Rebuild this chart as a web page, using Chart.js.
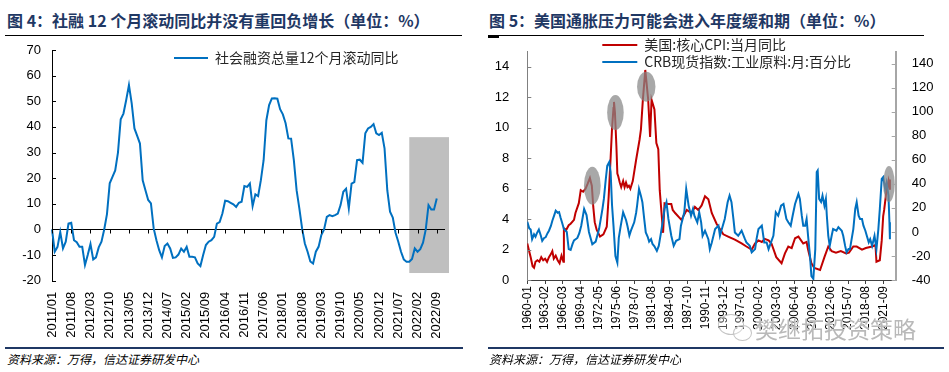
<!DOCTYPE html>
<html><head><meta charset="utf-8">
<script src="https://cdn.jsdelivr.net/npm/chart.js@4.4.0/dist/chart.umd.min.js"></script>
<style>
html,body{margin:0;padding:0;background:#fff;width:949px;height:372px;overflow:hidden;position:relative;font-family:"Noto Sans CJK SC",sans-serif;}
.title{position:absolute;top:10px;font-weight:bold;font-size:16px;line-height:20px;color:#1F3864;white-space:nowrap;}
.rule{position:absolute;top:35px;height:1px;background:#000;}
.foot{position:absolute;top:347px;height:2px;background:#1F3864;}
.src{position:absolute;top:352px;font-size:12px;line-height:14px;font-style:italic;color:#000;white-space:nowrap;}
canvas{position:absolute;top:30px;}
#wm{position:absolute;left:755px;top:314px;font-size:23px;line-height:28px;color:#b9b9b9;white-space:nowrap;text-shadow:0 0 1px #fff,0 0 1px #fff;}
.bub{position:absolute;border:1.5px solid #c4c4c4;border-radius:50%;background:rgba(255,255,255,0.3);}
</style></head>
<body>
<div class="title" style="left:7px;">图 4：社融 12 个月滚动同比并没有重回负增长（单位：%）</div>
<div class="rule" style="left:5px;width:457px;"></div>
<div class="title" style="left:489px;">图 5：美国通胀压力可能会进入年度缓和期（单位：%）</div>
<div class="rule" style="left:488px;width:436px;"></div>
<div class="rule" style="left:488px;width:11px;height:2px;top:36px;"></div>

<canvas id="cL" width="470" height="315" style="left:0px;"></canvas>
<canvas id="cR" width="475" height="315" style="left:474px;"></canvas>

<div class="bub" style="left:718px;top:314px;width:24px;height:19px;"></div>
<div class="bub" style="left:733px;top:325px;width:17px;height:14px;"></div>
<div id="wm">樊继拓投资策略</div>

<div class="foot" style="left:5px;width:458px;"></div>
<div class="foot" style="left:488px;width:456px;"></div>
<div class="src" style="left:7px;">资料来源：万得，信达证券研发中心</div>
<div class="src" style="left:489px;">资料来源：万得，信达证券研发中心</div>

<script>
// ---------- Figure 4 data ----------
const sfLegend = '社会融资总量12个月滚动同比';
const sfStartYear = 2011, sfEndYear = 2022;
const sfValues = [
 0, -8.7, -6.8, -1, -7.4, -4.8, 2.3, 2.6, -4.2, -5,
 -6.8, -6.8, -13.9, -10, -5.7, -11.7, -10.9, -7, -4.8, 0,
 6, 18, 20.5, 23, 30, 43, 45.2, 50.5, 56.3, 49.2,
 39.4, 36.5, 33.5, 19.2, 15.3, 11.5, 10.2, 0.4, -4.2, -8.1,
 -10.9, -6.5, -5.5, -7.4, -11.1, -10.9, -9.8, -7.5, -8.7, -6.8,
 -10.7, -10.7, -10.9, -13.3, -14.3, -10, -6.1, -4.8, -4.2, -2.9,
 2.3, 2.9, 6.2, 11.2, 11, 10.4, 9.8, 8.8, 10.4, 10.8,
 16.9, 16.6, 17.9, 9.1, 13.7, 13, 19.2, 27, 42.6, 48.5,
 51.1, 51.2, 51, 46.9, 44.9, 41.4, 35.5, 35.4, 27, 15.3,
 8.2, 0.4, -5.5, -8.7, -12.5, -13.3, -8.7, -6.8, -2.2, 0,
 4.9, 5.6, 5.2, 5.6, 6.2, 9.5, 14.7, 15.9, 8.2, 17.9,
 18.5, 27, 27.2, 26, 37.5, 39.4, 40, 41.1, 37.5, 36.8,
 37.7, 31.6, 15.3, 6.9, 4.6, -1.3, -4.8, -8.7, -11.7, -12.6,
 -12.6, -11.5, -7.4, -8.7, -7.7, -5.2, 0, 9.5, 7.8, 7.8,
 12.1
];
const sfLabels = [];
for (let y = sfStartYear; y <= sfEndYear; y++) for (let m = 1; m <= 12; m++) sfLabels.push(y + '/' + String(m).padStart(2, '0'));
const sfTickEvery = 7;
const sfShadeFrom = '2021/11', sfShadeTo = '2022/12';
const sfShadeLow = -17, sfShadeHigh = 36;

// ---------- Figure 5 data ----------
const cpiLabel = '美国:核心CPI:当月同比';
const crbLabel = 'CRB现货指数:工业原料:月:百分比';
const cpiDates = ['1960-01','1960-04','1960-08','1960-12','1961-03','1961-06','1961-10','1962-02','1962-06','1962-10','1963-02','1963-06','1963-10','1964-02','1964-05','1964-08','1964-12','1965-04','1965-08','1965-12','1966-04',
 '1966-05','1966-10','1967-03','1967-07','1968-02','1968-05','1968-12','1969-04','1969-09','1970-02','1970-06','1970-11','1971-03','1971-06','1971-09','1972-01','1972-08','1973-03','1973-10','1974-02','1974-06','1974-09','1974-12','1975-01','1975-03','1975-06','1975-08','1975-10',
 '1976-01','1976-04','1976-08','1976-11','1977-02','1977-05','1977-08','1977-11','1978-04','1978-11','1979-06','1979-09','1980-01','1980-06','1980-12','1981-04','1981-07','1982-01','1982-05','1982-09','1982-12','1983-07','1983-10',
 '1984-05','1984-12','1985-03','1985-08','1986-09','1987-08','1988-06','1989-01','1989-08','1990-03','1990-10','1991-05','1991-12','1992-10','1993-12','1994-10','1995-12','1997-02','1997-12','1998-11','1999-06','2000-01','2000-08','2001-02','2001-10','2002-04','2003-02','2004-01','2004-08','2005-03','2005-10',
 '2006-05','2006-12','2007-10','2008-05','2008-08','2009-03','2009-09','2010-09','2011-06','2012-02','2012-09','2013-06','2014-04','2015-03','2015-09','2016-06','2017-01','2017-12','2018-08','2019-09','2020-04','2020-06','2021-01','2021-05','2021-08','2021-10','2022-03','2022-07','2022-09','2022-10'];
const cpiValues = [2.4,2.0,1.5,0.9,0.8,1.2,1.3,1.2,1.5,1.3,1.4,1.2,1.5,1.7,1.9,1.4,1.6,1.3,1.1,1.6,1.2,
 3.4,3.3,3.6,3.7,3.95,4.4,5.05,5.9,5.8,6.0,6.3,6.7,6.2,4.8,3.8,3.3,2.85,3.0,3.5,5.5,8.0,10.0,11.3,11.7,11.0,8.8,7.0,6.8,
 6.4,6.1,6.5,6.1,6.4,6.1,6.2,6.0,6.5,7.9,9.2,9.9,11.85,13.8,11.85,9.4,11.85,11.2,9.0,8.6,5.9,3.1,5.05,
 5.0,5.0,4.6,4.4,3.95,4.6,4.4,4.8,4.6,4.9,5.5,5.3,4.4,3.7,3.0,2.85,2.65,2.4,2.2,2.0,2.4,2.6,2.5,2.7,2.6,2.4,1.5,1.1,1.75,2.2,2.1,
 2.74,2.85,2.4,2.5,2.0,1.1,0.8,0.66,1.5,2.2,1.9,1.8,1.9,1.75,1.8,2.2,2.2,2.0,2.1,2.2,2.3,1.2,1.3,2.6,4.2,4.6,5.9,6.5,6.0,6.6];
const crbDates = ['1960-01','1960-05','1960-08','1960-11','1961-03','1961-06','1961-09','1962-01','1962-05','1962-08','1962-12','1963-03','1963-07','1963-10','1964-02','1964-05','1964-09','1964-12','1965-04','1965-07','1965-10','1966-01','1966-05','1966-11','1967-03','1967-07','1967-11','1968-02','1968-09','1969-01','1969-05','1969-11','1970-04','1970-09','1971-04','1971-11','1972-06',
 '1973-01','1973-04','1973-08','1973-11','1974-03','1974-06','1974-09','1974-12','1975-04','1975-08','1975-11','1976-03','1976-08','1977-02','1977-05','1977-09','1978-01','1978-07','1978-11','1979-01','1979-05','1979-09','1979-12','1980-04','1980-07','1980-11','1981-02','1981-06','1981-09','1982-01','1982-06','1982-10',
 '1983-02','1983-06','1983-10','1984-02','1984-06','1984-12','1985-05','1985-10','1986-05','1986-08','1987-03','1987-07','1987-12','1988-05','1988-09','1988-12','1989-06','1989-10','1990-02','1990-05','1990-10','1991-05','1991-08','1991-12','1992-07','1993-02','1993-05','1993-09','1994-03','1994-09','1995-01','1995-05','1995-09','1995-12',
 '1996-07','1997-02','1997-09','1997-12','1998-07','1998-11','1999-06','1999-09','2000-01','2000-08','2001-01','2001-06','2001-10','2002-03','2002-08','2003-01','2003-06','2003-12','2004-05','2004-11','2005-03','2005-08','2005-12','2006-05','2006-12','2007-03','2007-07','2007-10','2008-02','2008-05','2008-08','2008-12','2009-03','2009-07','2009-11','2010-02','2010-04','2010-07','2010-11',
 '2011-02','2011-06','2011-09','2011-11','2012-02','2012-05','2012-09','2012-12','2013-07','2013-11','2014-06','2014-09','2015-01','2015-04','2015-08','2015-11','2016-06','2016-10','2017-01','2017-05','2017-08','2017-12','2018-03','2018-07','2018-10','2019-02','2019-05','2019-09','2020-02','2020-06','2020-10','2021-01','2021-05','2021-08','2021-12','2022-03','2022-07','2022-09','2022-10'];
const crbValues = [8.5,3,2,-6,-2,-4,-1,2,-3,-7.4,-5,-4.5,-1,1,5,9.3,14,17.7,16,16.5,12,8,2.4,0,-14.3,-15,-10,-7,-5,-1,5.2,19.1,14,0,-10.2,-8,2.4,
 19,27.5,44,55,58,50,22,5,-20,-25.5,-5,5,16.4,10,5,-3,2,8,16,21.9,35.8,30,24.7,10,-0.4,-4,-8,-6,-10,-12,-15.8,-11.6,
 -2,8,19.1,24.7,10.8,-3.2,-11.6,-7.4,-6,5.2,16.4,35.8,21.9,13.5,19.1,13.5,8,16.4,8,-3.2,1,-6,-14.3,-9,2.4,5.2,-3.2,2.4,10.8,24.7,30.2,24.7,10.8,-0.4,
 -3.2,1,-6,-8.7,-11.6,-17,-14.3,-6,2.4,5.2,-8.7,-8.7,-14.3,-8.7,-3.2,16.4,13.5,21.9,23.3,10.8,8,5.2,13.5,23.3,31.7,27.5,13.5,5.2,5.2,10.8,-3.2,-19.9,-36.7,-39,-14.3,49.8,51.1,27.5,25,
 30.2,21.9,27.5,13.5,-3.2,-11.6,-3.2,2.4,1,4,1,-3.2,-11.6,-17,-14.3,-14.3,2.4,19.1,24.7,13.5,10.8,10.8,5.2,1,-3.2,-8.7,-6,-11.6,-3.2,-14.3,2.4,19.1,44.2,45.6,35.8,41,30.2,8,-6];
const usTickLabels = ['1960-01','1963-02','1966-03','1969-04','1972-05','1975-06','1978-07','1981-08','1984-09','1987-10','1990-11','1993-12','1997-01','2000-02','2003-03','2006-04','2009-05','2012-06','2015-07','2018-08','2021-09'];
const usAxisEnd = '2023-10';
const hiDates = ['1971-04','1975-04','1980-08','2022-08'];
const hiValues = [6.2, 11.0, 12.7, 6.3];

// ---------- helpers ----------
const toMonth = s => { const [y, m] = s.split('-').map(Number); return (y - 1960) * 12 + (m - 1); };
const fromMonth = v => { const y = 1960 + Math.floor(v / 12); const m = v % 12 + 1; return y + '-' + String(m).padStart(2, '0'); };
const NUMFONT = '"Liberation Sans", Arial, sans-serif';
const CJKFONT = '"Noto Sans CJK SC", sans-serif';
Chart.defaults.font.family = NUMFONT;
Chart.defaults.color = '#000';

const legendMover = {
  id: 'legendMover',
  afterLayout(chart, args, opts) {
    const lg = chart.legend;
    if (!lg || opts.x == null) return;
    const pad = opts.pad, w = lg.width, h = lg.height;
    lg.left = opts.x - pad;
    lg.top = opts.y - pad - opts.fs / 2;
    lg.right = lg.left + w + 30;
    lg.bottom = lg.top + h;
  }
};

const leftDecor = {
  id: 'leftDecor',
  beforeDraw(chart) {
    const {ctx, scales: {x, y}} = chart;
    const x0 = x.getPixelForValue(sfLabels.indexOf(sfShadeFrom));
    const x1 = x.getPixelForValue(sfLabels.indexOf(sfShadeTo)) + 4;
    const y0 = y.getPixelForValue(sfShadeHigh), y1 = y.getPixelForValue(sfShadeLow);
    ctx.save(); ctx.fillStyle = '#BFBFBF'; ctx.fillRect(x0, y0, x1 - x0, y1 - y0); ctx.restore();
  },
  afterDraw(chart) {
    const {ctx, chartArea, scales: {x, y}} = chart;
    ctx.save(); ctx.strokeStyle = '#000'; ctx.lineWidth = 1; ctx.beginPath();
    y.ticks.forEach(t => { const py = Math.round(y.getPixelForValue(t.value)) + 0.5; ctx.moveTo(chartArea.left, py); ctx.lineTo(chartArea.left + 4, py); });
    const y0 = Math.round(y.getPixelForValue(0)) + 0.5;
    x.ticks.forEach(t => { const px = Math.round(x.getPixelForValue(t.value)) + 0.5; ctx.moveTo(px, y0); ctx.lineTo(px, y0 + 4); });
    ctx.stroke(); ctx.restore();
  }
};

const rightDecor = {
  id: 'rightDecor',
  afterDatasetsDraw(chart, args, opts) {
    const {ctx, scales: {x, y}} = chart;
    ctx.save(); ctx.fillStyle = 'rgba(135,135,135,0.72)';
    hiDates.forEach((d, i) => {
      const cx = x.getPixelForValue(toMonth(d)), cy = y.getPixelForValue(hiValues[i]);
      ctx.beginPath(); ctx.ellipse(cx, cy, opts.rx[i], opts.ry[i], 0, 0, Math.PI * 2); ctx.fill();
    });
    ctx.restore();
  },
  afterDraw(chart) {
    const {ctx, chartArea, scales: {y, y1}} = chart;
    ctx.save(); ctx.lineWidth = 1; ctx.strokeStyle = '#808080'; ctx.beginPath();
    y.ticks.forEach(t => { const py = Math.round(y.getPixelForValue(t.value)) + 0.5; ctx.moveTo(chartArea.left, py); ctx.lineTo(chartArea.left + 4, py); });
    ctx.stroke();
    ctx.strokeStyle = '#A6A6A6'; ctx.beginPath();
    y1.ticks.forEach(t => { const py = Math.round(y1.getPixelForValue(t.value)) + 0.5; ctx.moveTo(chartArea.right - 4, py); ctx.lineTo(chartArea.right, py); });
    ctx.stroke(); ctx.restore();
  }
};

// ---------- Figure 4 chart ----------
new Chart(document.getElementById('cL'), {
  type: 'line',
  data: { labels: sfLabels, datasets: [{ label: sfLegend, data: sfValues, borderColor: '#0070C0', backgroundColor: '#0070C0', borderWidth: 2, pointRadius: 0, tension: 0, fill: false }] },
  options: {
    responsive: false, animation: false, events: [],
    layout: { padding: { top: 20, left: 0, right: 25, bottom: 0 } },
    plugins: {
      tooltip: { enabled: false },
      legend: { position: 'chartArea', align: 'start',
        labels: { usePointStyle: true, pointStyle: 'line', pointStyleWidth: 34, padding: 6, color: '#262626', font: { family: CJKFONT, size: 14 } } },
      legendMover: { x: 174, y: 28, pad: 6, fs: 14 }
    },
    scales: {
      x: { type: 'category', grid: { display: false, drawTicks: false }, border: { display: false },
        afterBuildTicks: s => { s.ticks = s.ticks.filter(t => t.value % sfTickEvery === 0); },
        ticks: { autoSkip: false, maxRotation: 90, minRotation: 90, padding: 11, color: '#000', font: { family: NUMFONT, size: 13 } },
        afterFit: s => { s.height = 64.3; } },
      y: { min: -20, max: 70, ticks: { stepSize: 10, padding: 11, color: '#000', font: { family: NUMFONT, size: 13 } },
        grid: { drawTicks: false, lineWidth: 1, color: c => (c.tick && c.tick.value === 0) ? '#000' : 'rgba(0,0,0,0)' },
        border: { display: true, color: '#000', width: 1 },
        afterFit: s => { s.width = 52; } }
    }
  },
  plugins: [legendMover, leftDecor]
});

// ---------- Figure 5 chart ----------
const crbPts = crbDates.map((d, i) => ({ x: toMonth(d), y: crbValues[i] }));
const cpiPts = cpiDates.map((d, i) => ({ x: toMonth(d), y: cpiValues[i] }));
new Chart(document.getElementById('cR'), {
  type: 'line',
  data: { datasets: [
    { label: crbLabel, data: crbPts, yAxisID: 'y1', borderColor: '#0070C0', backgroundColor: '#0070C0', borderWidth: 2, pointRadius: 0, tension: 0 },
    { label: cpiLabel, data: cpiPts, yAxisID: 'y', borderColor: '#C00000', backgroundColor: '#C00000', borderWidth: 2, pointRadius: 0, tension: 0 }
  ] },
  options: {
    responsive: false, animation: false, events: [],
    layout: { padding: { top: 21.7, left: 0, right: 0, bottom: 0 } },
    plugins: {
      tooltip: { enabled: false },
      legend: { position: 'chartArea', align: 'start',
        labels: { usePointStyle: true, pointStyle: 'line', pointStyleWidth: 35, padding: 3, color: '#262626', font: { family: CJKFONT, size: 14 },
          sort: (a, b) => b.datasetIndex - a.datasetIndex } },
      legendMover: { x: 128.3, y: 15, pad: 3, fs: 14 },
      rightDecor: { rx: [8.4, 8.3, 9.2, 5.8], ry: [19, 17.5, 15, 18] }
    },
    scales: {
      x: { type: 'linear', min: 0, max: toMonth(usAxisEnd),
        afterBuildTicks: s => { s.ticks = usTickLabels.map(l => ({ value: toMonth(l) })); },
        ticks: { autoSkip: false, maxRotation: 90, minRotation: 90, padding: 2, color: '#000', font: { family: NUMFONT, size: 12 }, callback: v => fromMonth(v) },
        grid: { display: true, drawOnChartArea: false, drawTicks: true, tickLength: 4, color: '#404040' },
        border: { display: true, color: '#404040', width: 1 },
        afterFit: s => { s.height = 65; } },
      y: { position: 'left', min: 0, max: 15, ticks: { stepSize: 2, includeBounds: false, padding: 10, color: '#000', font: { family: NUMFONT, size: 13 } },
        grid: { display: false }, border: { display: true, color: '#808080', width: 1 },
        afterFit: s => { s.width = 53.3; } },
      y1: { position: 'right', min: -40, max: 150, ticks: { stepSize: 20, includeBounds: false, padding: 8, color: '#000', font: { family: NUMFONT, size: 13 } },
        grid: { display: false }, border: { display: true, color: '#A6A6A6', width: 2 },
        afterFit: s => { s.width = 53.3; } }
    }
  },
  plugins: [legendMover, rightDecor]
});
</script>
</body></html>
